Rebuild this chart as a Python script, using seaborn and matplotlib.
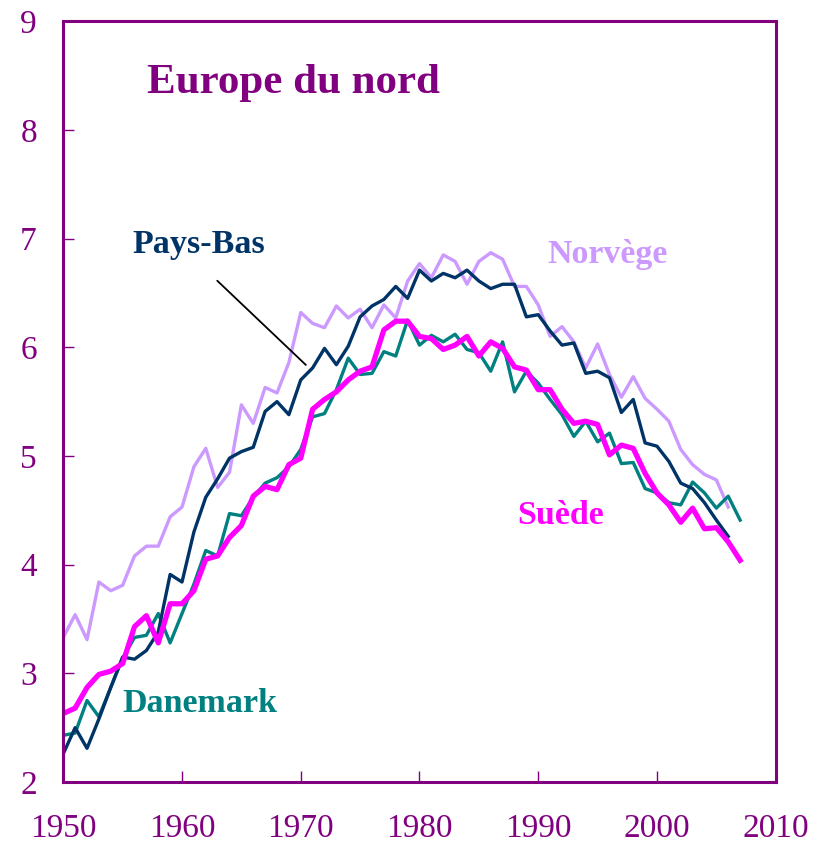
import matplotlib
matplotlib.use("Agg")
import matplotlib.pyplot as plt
import numpy as np
import pandas as pd
import seaborn as sns

# data
years_a = list(range(1950, 2007))   # Norvege, Pays-Bas
years_b = list(range(1950, 2008))   # Danemark, Suede

norvege = [3.33, 3.54, 3.31, 3.84, 3.76, 3.81, 4.08, 4.17, 4.17, 4.44,
           4.53, 4.90, 5.07, 4.71, 4.85, 5.47, 5.30, 5.63, 5.58, 5.86,
           6.32, 6.22, 6.18, 6.38, 6.27, 6.35, 6.18, 6.39, 6.27, 6.61,
           6.77, 6.64, 6.85, 6.79, 6.58, 6.79, 6.87, 6.81, 6.56, 6.56,
           6.39, 6.10, 6.19, 6.05, 5.81, 6.03, 5.75, 5.54, 5.73, 5.53,
           5.43, 5.32, 5.06, 4.92, 4.83, 4.78, 4.53]
pays_bas = [2.26, 2.50, 2.31, 2.58, 2.87, 3.15, 3.13, 3.21, 3.38, 3.91,
            3.84, 4.30, 4.62, 4.79, 4.98, 5.04, 5.08, 5.41, 5.50, 5.38,
            5.70, 5.81, 5.99, 5.84, 6.01, 6.28, 6.38, 6.44, 6.56, 6.45,
            6.71, 6.61, 6.68, 6.64, 6.71, 6.61, 6.54, 6.58, 6.58, 6.28,
            6.30, 6.15, 6.02, 6.04, 5.76, 5.78, 5.72, 5.40, 5.52, 5.12,
            5.09, 4.95, 4.75, 4.70, 4.57, 4.41, 4.26]
danemark = [2.43, 2.45, 2.75, 2.60, 2.87, 3.14, 3.33, 3.35, 3.55, 3.28,
            3.55, 3.82, 4.13, 4.08, 4.47, 4.45, 4.62, 4.75, 4.80, 4.90,
            5.06, 5.36, 5.39, 5.61, 5.90, 5.75, 5.76, 5.96, 5.92, 6.25,
            6.02, 6.11, 6.05, 6.12, 5.98, 5.95, 5.78, 6.05, 5.59, 5.78,
            5.67, 5.52, 5.38, 5.18, 5.32, 5.13, 5.21, 4.93, 4.94, 4.70,
            4.66, 4.57, 4.55, 4.76, 4.66, 4.52, 4.63, 4.41]
suede = [2.63, 2.68, 2.87, 2.99, 3.02, 3.09, 3.43, 3.53, 3.28, 3.64,
         3.64, 3.76, 4.05, 4.08, 4.25, 4.36, 4.63, 4.72, 4.69, 4.92,
         4.98, 5.43, 5.52, 5.59, 5.70, 5.78, 5.82, 6.16, 6.24, 6.24,
         6.10, 6.08, 5.98, 6.02, 6.10, 5.92, 6.05, 5.99, 5.82, 5.79,
         5.61, 5.61, 5.43, 5.30, 5.32, 5.29, 5.01, 5.10, 5.07, 4.84,
         4.66, 4.55, 4.39, 4.52, 4.33, 4.34, 4.21, 4.04]

purple = "#800080"
plt.rcParams["font.family"] = ["Liberation Serif", "DejaVu Serif"]

fig = plt.figure(figsize=(8.27, 8.5), dpi=100)
ax = fig.add_axes([0.0765, 0.08, 0.8615, 0.895])

series = [("Norvège", years_a, norvege, "#CC99FF", 2.4),
          ("Danemark", years_b, danemark, "#008080", 2.4),
          ("Pays-Bas", years_a, pays_bas, "#003366", 2.4),
          ("Suède", years_b, suede, "#FF00FF", 3.8)]
for name, yrs, vals, col, lw in series:
    df = pd.DataFrame({"annee": yrs, "valeur": vals})
    sns.lineplot(data=df, x="annee", y="valeur", color=col, linewidth=lw, ax=ax)

ax.set_xlim(1950, 2010)
ax.set_ylim(2, 9)
ax.set_xticks(range(1950, 2011, 10))
ax.set_yticks(range(2, 10))
ax.set_xlabel("")
ax.set_ylabel("")
for s in ax.spines.values():
    s.set_color(purple)
    s.set_linewidth(2.2)
ax.tick_params(axis="both", direction="in", length=8, width=1, color=purple,
               labelcolor=purple, labelsize=24)
ax.tick_params(axis="x", pad=23)
ax.tick_params(axis="y", pad=19)

ax.text(1957.05, 8.34, "Europe du nord", color=purple, fontsize=31,
        fontweight="bold", va="baseline")
ax.text(1955.8, 6.87, "Pays-Bas", color="#003366", fontsize=24.5,
        fontweight="bold", va="baseline")
ax.text(1990.8, 6.78, "Norvège", color="#CC99FF", fontsize=24.5,
        fontweight="bold", va="baseline")
ax.text(1988.2, 4.37, "Suède", color="#FF00FF", fontsize=24.5,
        fontweight="bold", va="baseline")
ax.text(1954.95, 2.64, "Danemark", color="#008080", fontsize=24.5,
        fontweight="bold", va="baseline")
ax.annotate("", xy=(1970.6, 5.82), xytext=(1962.8, 6.63),
            arrowprops=dict(arrowstyle="-", color="black", lw=1.3))

plt.savefig("out.png", dpi=100)
